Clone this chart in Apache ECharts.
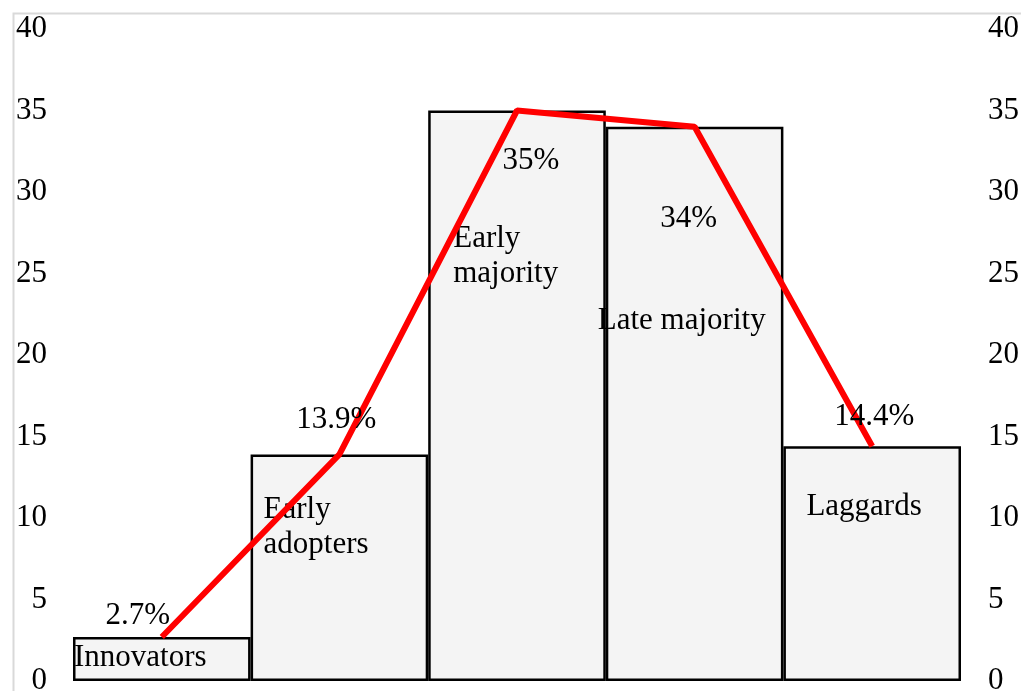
<!DOCTYPE html>
<html>
<head>
<meta charset="utf-8">
<script src="https://cdn.jsdelivr.net/npm/echarts@6/dist/echarts.min.js"></script>
<style>
html,body{margin:0;padding:0;background:#fff;}
#chart{width:1021px;height:691px;}
</style>
</head>
<body>
<div id="chart"></div>
<script>
var categories = ['Innovators', 'Early\nadopters', 'Early\nmajority', 'Late majority', 'Laggards'];
var barValues = [2.7, 13.9, 35, 34, 14.4];
var lineValues = [2.7, 13.9, 35, 34, 14.4];
var percentLabels = ['2.7%', '13.9%', '35%', '34%', '14.4%'];
var yTicks = { min: 0, max: 40, interval: 5 };

var FONT = '"Liberation Serif", "Times New Roman", serif';

// label layout (relative offsets, not data)
var barLabelPos = [[1, 3], [13, 38], [25, 111], [-8, 177], [23, 43]];
var lineLabelOffset = [[-24, -21], [-3, -35], [14, 50], [-6, 92], [2, -29]];

var chart = echarts.init(document.getElementById('chart'));

var barData = barValues.map(function (v, i) {
  return {
    value: v,
    label: {
      show: true,
      formatter: categories[i],
      position: barLabelPos[i],
      align: 'left',
      verticalAlign: 'top'
    }
  };
});

var lineData = lineValues.map(function (v, i) {
  return {
    value: v,
    label: {
      show: true,
      formatter: percentLabels[i],
      position: 'inside',
      offset: lineLabelOffset[i]
    }
  };
});

var yAxisCommon = {
  type: 'value',
  min: yTicks.min,
  max: yTicks.max,
  interval: yTicks.interval,
  splitLine: { show: false },
  axisLine: { show: false },
  axisTick: { show: false },
  axisLabel: { color: '#000', fontFamily: FONT, fontSize: 31 }
};

chart.setOption({
  animation: false,
  backgroundColor: '#fff',
  graphic: [{
    type: 'rect',
    left: 11, top: 11,
    shape: { width: 1100, height: 800 },
    style: { fill: 'none', stroke: '#d9d9d9', lineWidth: 2 },
    silent: true
  }],
  grid: { left: 73, right: 60, top: 29, bottom: 10, containLabel: false, outerBoundsMode: 'none' },
  xAxis: {
    type: 'category',
    data: categories,
    axisLine: { show: false },
    axisTick: { show: false },
    axisLabel: { show: false },
    splitLine: { show: false }
  },
  yAxis: [
    Object.assign({}, yAxisCommon, { position: 'left', axisLabel: Object.assign({}, yAxisCommon.axisLabel, { margin: 26 }) }),
    Object.assign({}, yAxisCommon, { position: 'right', axisLabel: Object.assign({}, yAxisCommon.axisLabel, { margin: 27 }) })
  ],
  series: [
    {
      type: 'bar',
      data: barData,
      barWidth: '100%',
      barCategoryGap: 0,
      itemStyle: { color: '#f4f4f4', borderColor: '#000', borderWidth: 2.5 },
      label: { color: '#000', fontFamily: FONT, fontSize: 31, lineHeight: 35 },
      z: 2
    },
    {
      type: 'line',
      data: lineData,
      symbol: 'circle',
      symbolSize: 1,
      itemStyle: { color: 'rgba(0,0,0,0)' },
      lineStyle: { color: '#ff0000', width: 6 },
      label: { color: '#000', fontFamily: FONT, fontSize: 31 },
      z: 3
    }
  ]
});
</script>
</body>
</html>
